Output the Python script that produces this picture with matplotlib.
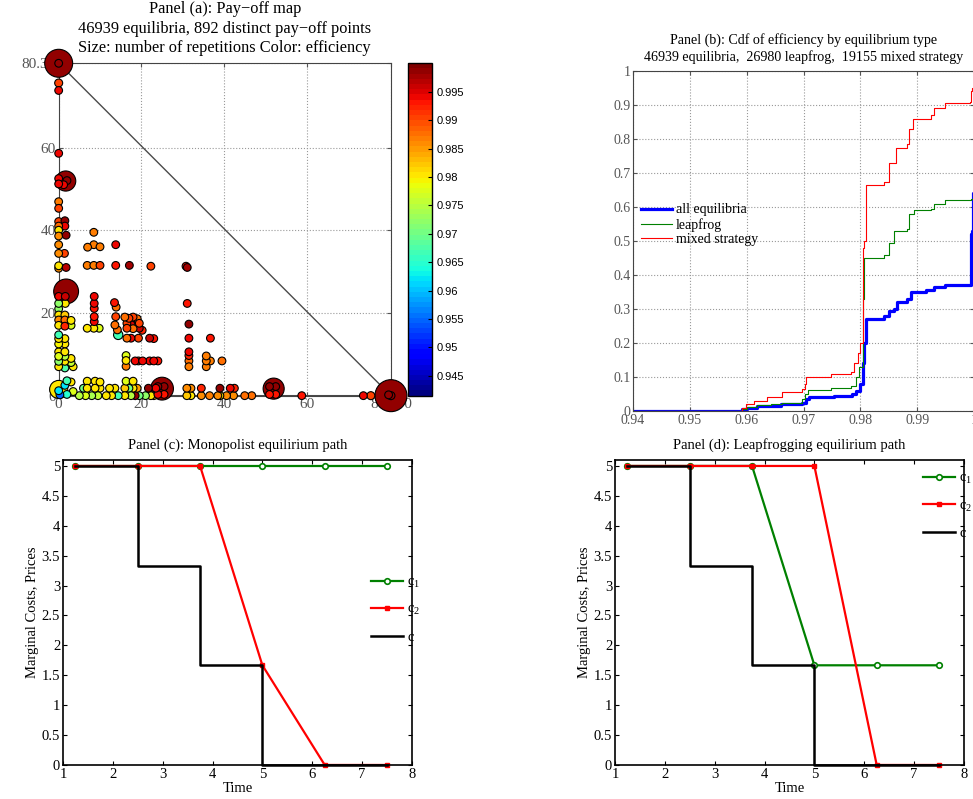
import numpy as np
import matplotlib
matplotlib.use('Agg')
from matplotlib import pyplot as plt

plt.rcParams['font.family'] = ['Liberation Serif', 'DejaVu Serif']
plt.rcParams['mathtext.fontset'] = 'custom'
plt.rcParams['mathtext.rm'] = 'Liberation Serif'
plt.rcParams['mathtext.it'] = 'Liberation Serif:italic'

# ---- panel (a): pay-off points (x, y, efficiency, repetitions)
pts = [
    # big ones
    (80.37, 0, .999, 10000), (0, 80.37, .999, 7500), (1.8, 25.2, .999, 5800),
    (25, 1.7, .999, 4800), (52, 1.7, .999, 4000), (1.7, 51.9, .999, 3600),
    (0, 1.5, .980, 2800),
    # left column
    (0, 75.6, .990, 60), (0, 73.8, .994, 20), (0, 58.6, .994, 20),
    (0, 52.5, .994, 20), (0, 51.2, .994, 20), (1.2, 51.0, .994, 20), (2, 52, .999, 30),
    (0, 46.9, .987, 20), (0, 45.3, .990, 20), (0, 42.1, .990, 20), (1.5, 42.3, .999, 20),
    (1.5, 41, .994, 20), (0, 41, .988, 20), (0, 40, .980, 20), (0, 38.6, .986, 20),
    (1.8, 38.8, .999, 20), (0, 36.5, .986, 20), (0, 34.4, .986, 20), (1.4, 34.4, .990, 20),
    (0, 31.4, .980, 20), (0, 30.8, .986, 20), (1.8, 31, .997, 20),
    (0, 24, .994, 20), (1.6, 24, .996, 20), (0, 22.3, .972, 20), (1.6, 22.3, .980, 20),
    (0, 21, .972, 20), (0, 19.5, .980, 20), (1.5, 19.5, .982, 20), (0, 18.3, .986, 20),
    (1.5, 18.3, .988, 20), (3, 18.2, .980, 20), (0, 17, .980, 20), (1.5, 16.8, .992, 20),
    (3, 17, .978, 20), (0, 14.7, .967, 20), (0, 13.8, .980, 20), (1.5, 13.8, .980, 20),
    (0, 12.5, .979, 20), (1.5, 12.5, .980, 20), (0, 10.6, .980, 20), (1.5, 10.6, .980, 20),
    (0, 9.5, .978, 20), (1.5, 9.5, .975, 20), (3, 9, .980, 20), (0, 8.3, .972, 20),
    (1.5, 8.3, .980, 20), (3, 8, .976, 20), (0, 7, .980, 20), (1.5, 6.7, .968, 20),
    (3.5, 7, .980, 20),
    (0, 1.2, .962, 20), (0.3, 0.2, .955, 20), (2, 3.6, .967, 20), (3, 3.3, .980, 20),
    (1.5, 2.5, .962, 20), (2, 0.3, .965, 20), (3.5, 1, .978, 20),
    # bottom rows
    (6.9, 3.5, .980, 20), (8.8, 3.5, .980, 20), (10, 3.3, .980, 20), (16.3, 3.5, .978, 20),
    (18, 3.5, .980, 20),
    (6, 1.8, .970, 20), (6.9, 1.8, .980, 20), (8.8, 1.8, .980, 20), (10, 1.8, .980, 20),
    (12.3, 1.8, .980, 20), (13.6, 1.8, .980, 20), (16, 1.8, .982, 20), (17, 1.8, .970, 20),
    (18, 1.8, .980, 20), (19, 1.8, .985, 20), (21.7, 1.8, .999, 20), (23.5, 1.8, .994, 20),
    (31, 1.8, .986, 20), (32, 1.8, .986, 20), (34.5, 1.8, .992, 20), (39, 1.8, .999, 20),
    (41.5, 1.8, .994, 20), (42.5, 1.8, .992, 20),
    (24, 2.2, .999, 20), (25.5, 2.2, .999, 20), (24, 0.3, .994, 20), (25.5, 0.3, .993, 20),
    (51, 2.2, .999, 20), (52.5, 2.2, .999, 20), (51, 0.3, .993, 20), (52.5, 0.3, .993, 20),
    (5, 0, .975, 20), (6.5, 0, .978, 20), (8, 0, .974, 20), (9.5, 0, .976, 20),
    (11.5, 0, .980, 20), (12.8, 0, .980, 20), (14.4, 0, .967, 20), (16, 0, .980, 20),
    (17.5, 0, .975, 20), (18.5, 0, .999, 20), (19.5, 0, .970, 20), (21, 0, .972, 20),
    (22.3, 0, .980, 20), (23, 0, .985, 20), (31, 0, .982, 20), (32, 0, .980, 20),
    (34.5, 0, .986, 20), (36.5, 0, .987, 20), (38.5, 0, .986, 20), (39, 0, .980, 20),
    (40.6, 0, .986, 20), (42.3, 0, .986, 20), (45, 0, .988, 20), (46.7, 0, .988, 20),
    (58.8, 0, .993, 20), (73.7, 0, .994, 20), (75.5, 0, .990, 60),
    (80.37, 0, .999, 60), (79.8, 0.2, .999, 30), (0, 80.37, .999, 20),
    # middle
    (8.5, 39.5, .987, 20), (7, 35.9, .987, 20), (8.5, 36.5, .987, 20), (10, 36, .987, 20),
    (13.8, 36.5, .994, 20), (6.9, 31.5, .987, 20), (8.5, 31.5, .987, 20), (10, 31.5, .990, 20),
    (13.8, 31.5, .993, 20), (17.1, 31.5, .998, 20), (22.3, 31.3, .990, 20), (30.8, 31.3, .993, 20),
    (31.1, 31, .998, 20), (31.1, 22.3, .993, 20), (8.6, 24, .994, 20), (8.6, 22.3, .994, 20),
    (8.6, 21.1, .993, 20), (13.5, 22.5, .993, 20), (13.9, 21.4, .988, 20), (8.6, 19.1, .993, 20),
    (8.6, 17.9, .994, 20), (6.9, 16.3, .980, 20), (8.5, 16.3, .980, 20), (9.8, 16.3, .978, 20),
    (13.8, 19.1, .990, 20), (13.6, 17.1, .988, 20), (14.2, 15.9, .988, 20),
    (16, 19, .988, 20), (17, 18.7, .990, 20), (18, 19, .990, 20), (19, 18.6, .988, 20),
    (16.5, 17.5, .990, 20), (17.5, 17.2, .995, 20), (18.5, 17.2, .990, 20), (19.5, 17.5, .990, 20),
    (16.5, 16.3, .990, 20), (18, 16.2, .988, 20), (19.5, 16.3, .996, 20), (20.2, 15.8, .992, 20),
    (14.4, 14.7, .967, 300),
    (16.5, 13.9, .988, 20), (17.5, 13.9, .994, 20), (19.3, 13.9, .990, 20), (22, 13.9, .996, 20),
    (23, 13.8, .993, 20), (31.5, 17.3, .999, 20), (31.5, 13.9, .994, 20), (36.7, 13.9, .993, 20),
    (31.5, 10.6, .994, 20), (31.5, 9.7, .992, 20), (31.5, 8.4, .988, 20), (31.5, 7, .987, 20),
    (35.7, 9.6, .987, 20), (35.7, 8.4, .987, 20), (36.7, 8.4, .987, 20), (35.7, 7, .987, 20),
    (39.5, 8.4, .988, 20), (16.3, 9.7, .978, 20), (16.3, 8.5, .980, 20), (16.3, 7.1, .987, 20),
    (18.5, 8.4, .994, 20), (19.3, 8.4, .990, 20), (20.3, 8.4, .994, 20), (22, 8.4, .994, 20),
    (23, 8.4, .994, 20), (24, 8.4, .993, 20),
]
pay1 = [p[0] for p in pts]
pay2 = [p[1] for p in pts]
eff = [p[2] for p in pts]
reps = [p[3] for p in pts]
vmax = 80.37

# ---- panel (b): cdf step points
eff_all = [0.94, 0.9592, 0.960, 0.9618, 0.966, 0.9663, 0.9698, 0.9704, 0.971, 0.9754, 0.9786,
           0.9792, 0.980, 0.9804, 0.9806, 0.981, 0.9842, 0.9851, 0.986, 0.9865, 0.9882,
           0.9889, 0.9915, 0.993, 0.9948, 0.9994, 0.9997, 0.99985, 1.0]
cdf_all = [0, 0.005, 0.01, 0.014, 0.02, 0.022, 0.025, 0.035, 0.04, 0.045, 0.05,
           0.06, 0.08, 0.14, 0.2, 0.27, 0.28, 0.295, 0.3, 0.32, 0.33,
           0.35, 0.355, 0.365, 0.37, 0.52, 0.53, 0.64, 1.0]
eff_lf = [0.94, 0.9592, 0.960, 0.9618, 0.9642, 0.9662, 0.9698, 0.9702, 0.9707, 0.9748, 0.9783,
          0.9792, 0.9798, 0.9804, 0.9807, 0.9842, 0.9851, 0.986, 0.9882, 0.9886, 0.9895,
          0.9924, 0.993, 0.9948, 0.9994, 0.9998, 1.0]
cdf_lf = [0, 0.005, 0.012, 0.017, 0.02, 0.025, 0.035, 0.05, 0.063, 0.067, 0.075,
          0.1, 0.13, 0.33, 0.45, 0.46, 0.495, 0.53, 0.535, 0.58, 0.59,
          0.595, 0.61, 0.62, 0.625, 0.64, 1.0]
eff_ms = [0.94, 0.9592, 0.9598, 0.9612, 0.9636, 0.9662, 0.9698, 0.9702, 0.9705, 0.9748, 0.9783,
          0.9789, 0.9795, 0.980, 0.9804, 0.9807, 0.981, 0.9842, 0.9851, 0.9862, 0.9882,
          0.9886, 0.9892, 0.9924, 0.993, 0.9948, 0.9992, 0.9994, 0.9997, 1.0]
cdf_ms = [0, 0.01, 0.02, 0.03, 0.04, 0.055, 0.065, 0.08, 0.1, 0.11, 0.115,
          0.14, 0.17, 0.2, 0.48, 0.5, 0.665, 0.675, 0.73, 0.775, 0.785,
          0.83, 0.86, 0.87, 0.89, 0.905, 0.91, 0.94, 0.95, 1.0]

# ---- panels (c), (d): paths
t = [1.25, 2.5, 3.75, 5, 6.25, 7.5]
mono_c1 = [5, 5, 5, 5, 5, 5]
mono_c2 = [5, 5, 5, 1.6667, 0, 0]
leap_c1 = [5, 5, 5, 1.6667, 1.6667, 1.6667]
leap_c2 = [5, 5, 5, 5, 0, 0]
price = [5, 3.3333, 1.6667, 0, 0, 0]

gray = '#555555'
fig = plt.figure(figsize=(9.73, 7.99), dpi=100)

# panel (a)
ax = fig.add_axes([0.0603, 0.5048, 0.3415, 0.416])
ax.plot([0, 0, vmax, 0], [0, vmax, 0, 0], color='#4a4a4a', lw=1, zorder=2)
order = np.argsort(reps)[::-1]
cmap = plt.get_cmap('jet', 64)
sizes = 30 + 0.05 * np.array(reps, dtype=float)
sc = ax.scatter(np.array(pay1)[order], np.array(pay2)[order], s=sizes[order],
                c=np.array(eff)[order], cmap=cmap, vmin=0.9415, vmax=1.0,
                edgecolors='k', linewidths=0.8, zorder=3, clip_on=False)
ax.set_xlim(0, vmax)
ax.set_ylim(0, vmax)
ax.set_xticks([0, 20, 40, 60, vmax])
ax.set_xticklabels(['0', '20', '40', '60', '80.370'])
ax.set_yticks([0, 20, 40, 60, vmax])
ax.set_yticklabels(['0', '20', '40', '60', '80.37'])
ax.grid(True, linestyle=':', color='#999999', lw=0.8)
ax.tick_params(direction='in', top=True, right=True, labelsize=11, colors=gray,
               labelcolor=gray, length=3, pad=2)
for s in ax.spines.values():
    s.set_color('#444444')
ax.set_title('Panel (a): Pay\u2212off map\n46939 equilibria, 892 distinct pay\u2212off points\n'
             'Size: number of repetitions Color: efficiency', fontsize=11.8, pad=8,
             linespacing=1.3)

cax = fig.add_axes([0.4196, 0.5048, 0.0247, 0.416])
cb = fig.colorbar(sc, cax=cax)
cb.set_ticks([0.945, 0.95, 0.955, 0.96, 0.965, 0.97, 0.975, 0.98, 0.985, 0.99, 0.995])
cb.ax.set_yticklabels(['0.945', '0.95', '0.955', '0.96', '0.965', '0.97', '0.975',
                       '0.98', '0.985', '0.99', '0.995'], family='Liberation Sans', fontsize=8)
cb.ax.tick_params(direction='in', length=3, pad=3)
cb.outline.set_linewidth(1)

# panel (b)
bx = fig.add_axes([0.6506, 0.4856, 0.3505, 0.4255])
bx.step(eff_all, cdf_all, where='post', color='b', lw=2.3, label='all equilibria')
bx.step(eff_lf, cdf_lf, where='post', color='g', lw=0.8, label='leapfrog')
bx.step(eff_ms, cdf_ms, where='post', color='r', lw=0.8, label='mixed strategy')
bx.set_xlim(0.94, 1.0)
bx.set_ylim(0, 1)
bx.set_xticks([0.94, 0.95, 0.96, 0.97, 0.98, 0.99, 1.0])
bx.set_xticklabels(['0.94', '0.95', '0.96', '0.97', '0.98', '0.99', '1'])
bx.set_yticks(np.arange(0, 11) / 10)
bx.set_yticklabels(['0', '0.1', '0.2', '0.3', '0.4', '0.5', '0.6', '0.7', '0.8', '0.9', '1'])
bx.grid(True, linestyle=':', color='#999999', lw=0.8)
bx.tick_params(direction='in', top=True, right=True, labelsize=10, colors=gray,
               labelcolor=gray, length=3, pad=2)
for s in bx.spines.values():
    s.set_color('#444444')
bx.set_title('Panel (b): Cdf of efficiency by equilibrium type\n'
             '46939 equilibria,  26980 leapfrog,  19155 mixed strategy', fontsize=10.1, pad=7,
             linespacing=1.3)
bx.legend(loc='upper left', bbox_to_anchor=(0.0, 0.635), frameon=False, fontsize=10,
          handlelength=2.2, handletextpad=0.3, labelspacing=0.1, borderaxespad=0.2)


def path_panel(rect, c1, c2, title, legend_anchor):
    a = fig.add_axes(rect)
    a.plot(t, c1, color='g', lw=1.6, marker='o', ms=4, mfc='white', mec='g', mew=1.2,
           label=r'$\mathrm{c}_1$', clip_on=False)
    a.plot(t, c2, color='r', lw=1.6, marker='s', ms=3.5, mfc='r', mec='r',
           label=r'$\mathrm{c}_2$', clip_on=False)
    a.plot(t, price, color='k', lw=1.8, drawstyle='steps-post', label='c', clip_on=False)
    a.set_xlim(1, 8)
    a.set_ylim(0, 5.1)
    a.set_xticks(range(1, 9))
    a.set_yticks(np.arange(0, 11) / 2)
    a.set_yticklabels(['0', '0.5', '1', '1.5', '2', '2.5', '3', '3.5', '4', '4.5', '5'])
    a.tick_params(direction='in', top=True, right=True, labelsize=10.5, length=3, pad=2)
    for s in a.spines.values():
        s.set_linewidth(1.2)
    a.set_xlabel('Time', fontsize=10.5, labelpad=1)
    a.set_ylabel('Marginal Costs, Prices', fontsize=10.5, labelpad=2)
    a.set_title(title, fontsize=10.5, pad=8)
    a.legend(loc='upper left', bbox_to_anchor=legend_anchor, frameon=False, fontsize=10.5,
             handlelength=2.2, handletextpad=0.3, labelspacing=0.9, borderaxespad=0)
    return a


path_panel([0.0647, 0.0426, 0.3587, 0.3817], mono_c1, mono_c2,
           'Panel (c): Monopolist equilirium path', (0.865, 0.64))
path_panel([0.632, 0.0426, 0.3587, 0.3817], leap_c1, leap_c2,
           'Panel (d): Leapfrogging equilirium path', (0.865, 0.98))

plt.savefig('out.png', dpi=100)
